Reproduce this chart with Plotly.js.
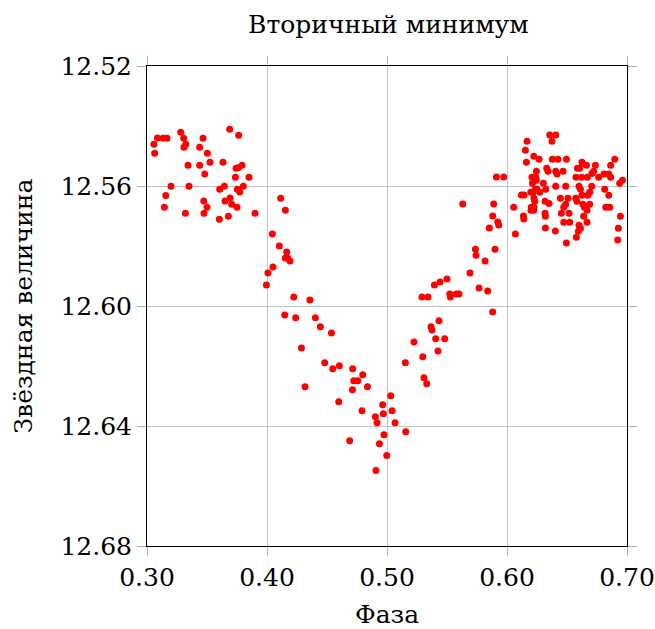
<!DOCTYPE html>
<html>
<head>
<meta charset="utf-8">
<script src="https://cdn.plot.ly/plotly-3.0.1.min.js"></script>
<style>html,body{margin:0;padding:0;background:#fff;}#chart{width:655px;height:629px;}</style>
</head>
<body>
<div id="chart"></div>
<script>
// Phase values (x)
var phase = [
0.3058,0.3064,0.3087,0.3133,0.3167,0.3281,0.3306,0.3323,0.3308,0.3467,
0.3439,0.3503,0.3689,0.3764,0.3342,0.3439,0.3525,0.3633,0.3481,0.3792,
0.3762,0.3742,0.3737,0.3850,0.3200,0.3350,0.3606,0.3645,0.3803,0.3753,
0.3773,0.3156,0.3145,0.3473,0.3500,0.3650,0.3692,0.3706,0.3750,0.3320,
0.3475,0.3603,0.3678,0.3900,
0.4114,0.4153,0.4045,0.4103,0.4164,0.4153,0.4173,0.4192,0.4050,0.4008,
0.3995,0.4223,0.4358,0.4148,0.4239,0.4403,0.4445,0.4537,0.4287,0.4481,
0.4548,0.4603,0.4714,0.4798,0.4723,0.4756,0.4837,0.4712,0.4317,0.4598,
0.4792,0.4964,0.4970,0.4903,0.4917,0.4975,0.4937,0.4689,0.4998,0.4908,
0.5031,0.5042,0.5067,0.5156,0.5153,0.5225,0.5298,0.5308,0.5331,0.5375,
0.5367,0.5406,0.5481,0.5425,0.5433,0.5631,0.5889,0.6056,0.5881,0.5923,
0.5931,0.5853,0.6070,0.5737,0.5742,0.5900,0.5817,0.5692,0.5500,0.5442,
0.5395,0.5767,0.5839,0.5292,0.5342,0.5523,0.5528,0.5578,0.5600,0.5881,
0.5912,0.5973,0.6120,0.6142,0.6137,0.6140,0.6495,0.6320,0.6403,
0.6356,0.6406,0.6375,0.6167,0.6153,0.6162,0.6223,0.6267,0.6378,0.6425,
0.6495,0.6625,0.6662,0.6737,0.6864,0.6898,0.6606,0.6587,0.6331,0.6342,
0.6245,0.6406,0.6417,0.6467,0.6722,0.6708,0.6808,0.6848,0.6240,0.6208,
0.6575,0.6623,0.6670,0.6764,0.6864,0.6245,0.6303,0.6406,0.6489,0.6600,
0.6706,0.6939,0.6962,0.6212,0.6237,0.6250,0.6323,0.6612,0.6814,0.6198,
0.6217,0.6273,0.6689,0.6673,0.6625,0.6848,0.6225,0.6445,0.6508,0.6573,
0.6583,0.6231,0.6317,0.6350,0.6489,0.6473,0.6633,0.6645,0.6667,0.6689,
0.6203,0.6225,0.6223,0.6200,0.6453,0.6517,0.6823,0.6856,0.6317,0.6320,
0.6639,0.6473,0.6523,0.6667,0.6945,0.6600,0.6612,0.6595,0.6928,0.6578,
0.6923
];
// Stellar magnitude values (y)
var magnitude = [
12.5461,12.5491,12.5440,12.5441,12.5441,12.5421,12.5441,12.5461,12.5471,12.5441,
12.5471,12.5491,12.5411,12.5431,12.5531,12.5531,12.5521,12.5521,12.5560,12.5531,
12.5539,12.5541,12.5571,12.5571,12.5601,12.5601,12.5611,12.5601,12.5601,12.5611,
12.5620,12.5632,12.5671,12.5650,12.5671,12.5650,12.5640,12.5661,12.5671,12.5691,
12.5691,12.5711,12.5701,12.5691,
12.5641,12.5681,12.5760,12.5800,12.5820,12.5840,12.5841,12.5850,12.5870,12.5890,
12.5930,12.5970,12.5980,12.6030,12.6039,12.6039,12.6069,12.6090,12.6140,12.6189,
12.6209,12.6199,12.6209,12.6229,12.6249,12.6249,12.6269,12.6279,12.6269,12.6319,
12.6349,12.6329,12.6359,12.6369,12.6389,12.6429,12.6459,12.6449,12.6498,12.6548,
12.6299,12.6349,12.6389,12.6419,12.6189,12.6120,12.6169,12.6239,12.6259,12.6080,
12.6069,12.6109,12.6109,12.6150,12.6049,12.5660,12.5660,12.5671,12.5700,12.5720,
12.5730,12.5740,12.5760,12.5811,12.5831,12.5811,12.5850,12.5890,12.5910,12.5920,
12.5930,12.5940,12.5950,12.5970,12.5970,12.5960,12.5970,12.5960,12.5960,12.6020,
12.5570,12.5570,12.5630,12.5630,12.5700,12.5710,12.5790,12.5740,12.5750,
12.5430,12.5430,12.5451,12.5451,12.5481,12.5521,12.5501,12.5511,12.5511,12.5511,
12.5511,12.5521,12.5531,12.5531,12.5531,12.5511,12.5541,12.5541,12.5541,12.5551,
12.5551,12.5551,12.5560,12.5551,12.5551,12.5558,12.5560,12.5560,12.5571,12.5571,
12.5571,12.5571,12.5571,12.5571,12.5571,12.5581,12.5591,12.5601,12.5601,12.5601,
12.5601,12.5591,12.5581,12.5591,12.5611,12.5611,12.5611,12.5611,12.5611,12.5621,
12.5621,12.5621,12.5621,12.5631,12.5631,12.5631,12.5641,12.5641,12.5641,12.5641,
12.5651,12.5651,12.5651,12.5658,12.5661,12.5671,12.5661,12.5671,12.5681,12.5661,
12.5671,12.5671,12.5681,12.5681,12.5691,12.5691,12.5671,12.5671,12.5691,12.5701,
12.5701,12.5721,12.5721,12.5721,12.5701,12.5731,12.5741,12.5751,12.5741,12.5771,
12.5780
];
var xTickVals = [0.30, 0.40, 0.50, 0.60, 0.70];
var xTickText = ['0.30', '0.40', '0.50', '0.60', '0.70'];
var yTickVals = [12.52, 12.56, 12.60, 12.64, 12.68];
var yTickText = ['12.52', '12.56', '12.60', '12.64', '12.68'];
var titleText = 'Вторичный минимум';
var xTitle = 'Фаза';
var yTitle = 'Звёздная величина';

var serif = 'DejaVu Serif';
var trace = {
  x: phase, y: magnitude, type: 'scatter', mode: 'markers',
  marker: {color: '#ff0000', size: 7, line: {width: 0}},
  hoverinfo: 'x+y'
};
var axisCommon = {
  showline: true, linecolor: '#000', linewidth: 1, mirror: 'ticks',
  showgrid: true, gridcolor: '#c4c4c4', gridwidth: 1,
  ticks: 'outside', ticklen: 9, tickcolor: '#b4b4b4', tickwidth: 1,
  zeroline: false,
  tickfont: {family: serif, size: 25, color: '#000'}
};
var layout = {
  width: 655, height: 629,
  margin: {l: 147, r: 28, t: 66, b: 83},
  paper_bgcolor: '#fff', plot_bgcolor: '#fff',
  font: {family: serif, color: '#000'},
  showlegend: false,
  title: {text: titleText, font: {family: serif, size: 25, color: '#000'}, x: 0.593, xanchor: 'center', y: 0.962, yanchor: 'middle'},
  xaxis: Object.assign({}, axisCommon, {
    range: [0.30, 0.70], tickmode: 'array', tickvals: xTickVals, ticktext: xTickText,
    title: {text: xTitle, font: {family: serif, size: 25, color: '#000'}, standoff: 16}
  }),
  yaxis: Object.assign({}, axisCommon, {
    range: [12.68, 12.52], tickmode: 'array', tickvals: yTickVals, ticktext: yTickText,
    title: {text: yTitle, font: {family: serif, size: 25, color: '#000'}, standoff: 20}
  })
};
Plotly.newPlot('chart', [trace], layout, {displayModeBar: false, staticPlot: true});
</script>
</body>
</html>
